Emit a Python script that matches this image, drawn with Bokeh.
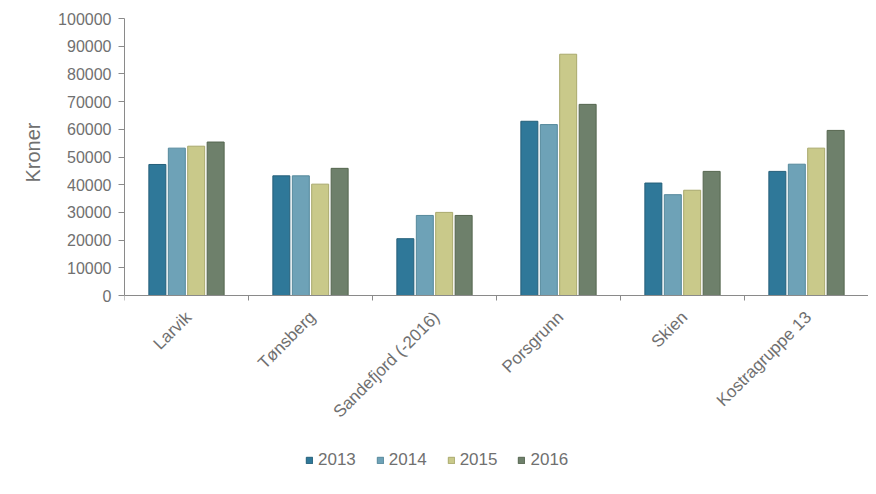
from bokeh.plotting import figure
from bokeh.models import (Range1d, FixedTicker, Legend, LegendItem, Span, Title,
                          ColumnDataSource, BasicTickFormatter)
from bokeh.core.properties import value
from bokeh.embed import file_html
from bokeh.resources import INLINE
import math

categories = ["Larvik", "Tønsberg", "Sandefjord (-2016)", "Porsgrunn", "Skien", "Kostragruppe 13"]
years = ["2013", "2014", "2015", "2016"]
v2013 = [47300, 43200, 20500, 62900, 40600, 44800]
v2014 = [53200, 43200, 28900, 61700, 36400, 47400]
v2015 = [53900, 40200, 30000, 87100, 38000, 53200]
v2016 = [55400, 45900, 28900, 69000, 44800, 59600]
y_ticks = [0, 10000, 20000, 30000, 40000, 50000, 60000, 70000, 80000, 90000, 100000]

series = [v2013, v2014, v2015, v2016]
fills = ["#2f7899", "#6ea2b7", "#c9c98a", "#6e806b"]
lines = ["#245f79", "#55889c", "#a9a96c", "#55664f"]
offsets = [-0.235, -0.078, 0.078, 0.235]
axis_grey = "#8a8a8a"
text_grey = "#707070"

# frame spans the whole height below the top border; value 0 sits 191px above the bottom
y_max = 100000
frame_px = 486 - 18
zero_px = 191
y_min = -y_max * zero_px / (frame_px - zero_px)

p = figure(width=868, height=486, output_backend="svg", toolbar_location=None,
           x_axis_location=None,
           x_range=Range1d(0, len(categories)), y_range=Range1d(y_min, y_max),
           min_border_left=124, min_border_top=18, min_border_right=0, min_border_bottom=0)
p.outline_line_color = None
p.grid.visible = False
p.background_fill_color = "white"

renderers = []
for vals, off, fc, lc in zip(series, offsets, fills, lines):
    xs = [i + 0.5 + off for i in range(len(categories))]
    src = ColumnDataSource(dict(x=xs, top=vals))
    r = p.vbar(x="x", top="top", width=0.137, bottom=0, source=src,
               fill_color=fc, line_color=lc, line_width=1)
    renderers.append(r)

# y axis
p.yaxis.ticker = FixedTicker(ticks=y_ticks)
p.yaxis.bounds = (0, y_max)
p.yaxis.formatter = BasicTickFormatter(use_scientific=False)
p.yaxis.axis_line_color = axis_grey
p.yaxis.major_tick_line_color = axis_grey
p.yaxis.major_tick_in = 0
p.yaxis.major_tick_out = 6
p.yaxis.minor_tick_line_color = None
p.yaxis.major_label_text_font = "Liberation Sans"
p.yaxis.major_label_text_font_size = "16px"
p.yaxis.major_label_text_color = text_grey
p.yaxis.major_label_standoff = 7

# y axis title, placed next to the value part of the axis
ytitle = Title(text="Kroner", align="right", offset=104, standoff=24,
               text_font="Liberation Sans", text_font_size="20px",
               text_font_style="normal", text_color=text_grey)
p.add_layout(ytitle, "left")

# category axis: baseline, boundary ticks and rotated labels
p.add_layout(Span(location=0, dimension="width", line_color=axis_grey, line_width=1))
bounds_x = list(range(len(categories) + 1))
p.ray(x=bounds_x, y=[0] * len(bounds_x), length=5, length_units="screen",
      angle=-math.pi / 2, line_color=axis_grey, line_width=1)
lab_src = ColumnDataSource(dict(x=[i + 0.5 for i in range(len(categories))],
                                y=[0] * len(categories), text=categories))
p.text(x="x", y="y", text="text", source=lab_src, angle=math.pi / 4,
       text_align="right", text_baseline="middle", x_offset=2, y_offset=19,
       text_font=value("Liberation Sans"), text_font_size=value("17px"),
       text_color=text_grey)

legend = Legend(items=[LegendItem(label=y, renderers=[r]) for y, r in zip(years, renderers)],
                orientation="horizontal", location=(181, 16))
legend.border_line_alpha = 0
legend.background_fill_alpha = 0
legend.padding = 0
legend.margin = 0
legend.glyph_width = 8
legend.glyph_height = 8
legend.label_standoff = 5
legend.spacing = 20
legend.label_text_font = "Liberation Sans"
legend.label_text_font_size = "17px"
legend.label_text_color = text_grey
p.add_layout(legend, "center")

open("out.html", "w").write(file_html(p, INLINE))
